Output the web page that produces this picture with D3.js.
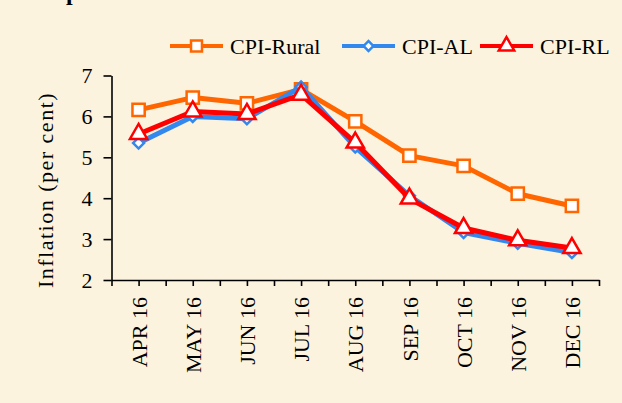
<!DOCTYPE html>
<html>
<head>
  <title>CPI Inflation</title>
  <style>
    body { margin: 0; background: #fcf3df; }
    svg { display: block; font-family: "Liberation Serif", "Times New Roman", serif; }
    .axis path, .axis line { stroke: #000; stroke-width: 1.6px; }
    .axis text { font-size: 22px; fill: #000; font-family: "Liberation Serif", serif; }
  </style>
</head>
<body>
  <svg id="chart"></svg>

  <script src="https://d3js.org/d3.v7.min.js"></script>
  <script>
    // data
    var months = ["APR 16", "MAY 16", "JUN 16", "JUL 16", "AUG 16", "SEP 16", "OCT 16", "NOV 16", "DEC 16"];
    var cpiRural = [6.16, 6.46, 6.32, 6.66, 5.88, 5.04, 4.79, 4.11, 3.81];
    var cpiAL = [5.35, 6.00, 5.94, 6.72, 5.25, 4.06, 3.16, 2.90, 2.67];
    var cpiRL = [5.57, 6.12, 6.06, 6.53, 5.36, 3.99, 3.27, 2.97, 2.78];
    var yTicks = [2, 3, 4, 5, 6, 7];

    var width = 622, height = 403;

    var svg = d3.select("#chart")
      .attr("width", width)
      .attr("height", height);

    svg.append("rect")
      .attr("width", width)
      .attr("height", height)
      .attr("fill", "#fcf3df");

    // leftover of the cut-off title
    svg.append("text")
      .attr("x", 66)
      .attr("y", 0)
      .attr("font-size", 24)
      .attr("font-weight", "bold")
      .text("p");

    var x = d3.scaleLinear().domain([0, months.length]).range([111.5, 599]);
    var y = d3.scaleLinear().domain([2, 7]).range([280, 75.5]);

    // x axis: ticks at category edges and centres, labels at centres
    var xTickVals = d3.range(0, months.length * 2 + 1).map(function(i) { return i / 2; });
    var xAxis = d3.axisBottom(x)
      .tickValues(xTickVals)
      .tickSize(6)
      .tickSizeOuter(0)
      .tickFormat(function(d) {
        return (d % 1 === 0.5) ? months[Math.floor(d)] : "";
      });

    var gx = svg.append("g")
      .attr("class", "axis")
      .attr("transform", "translate(0," + y(2) + ")")
      .call(xAxis);

    gx.selectAll("text")
      .attr("transform", "rotate(-90)")
      .attr("text-anchor", "end")
      .attr("x", -17)
      .attr("y", 0)
      .attr("dy", "0.35em");

    var yAxis = d3.axisLeft(y)
      .tickValues(yTicks)
      .tickSize(8)
      .tickSizeOuter(0)
      .tickPadding(11)
      .tickFormat(d3.format("d"));

    svg.append("g")
      .attr("class", "axis")
      .attr("transform", "translate(" + x(0) + ",0)")
      .call(yAxis);

    svg.append("text")
      .attr("transform", "translate(53,190) rotate(-90)")
      .attr("text-anchor", "middle")
      .attr("font-size", 22)
      .attr("letter-spacing", 1.5)
      .text("Inflation (per cent)");

    var series = [
      { name: "CPI-Rural", values: cpiRural, color: "#ff6600", shape: d3.symbolSquare, size: 150, rot: 0 },
      { name: "CPI-AL", values: cpiAL, color: "#3388ee", shape: d3.symbolSquare, size: 60, rot: 45 },
      { name: "CPI-RL", values: cpiRL, color: "#ff0000", shape: d3.symbolTriangle, size: 130, rot: 0 }
    ];

    var line = d3.line()
      .x(function(d, i) { return x(i + 0.5); })
      .y(function(d) { return y(d); });

    series.forEach(function(s) {
      var g = svg.append("g");
      g.append("path")
        .attr("d", line(s.values))
        .attr("fill", "none")
        .attr("stroke", s.color)
        .attr("stroke-width", 5)
        .attr("stroke-linejoin", "round");
      g.selectAll("path.mark")
        .data(s.values)
        .enter().append("path")
        .attr("class", "mark")
        .attr("d", d3.symbol().type(s.shape).size(s.size))
        .attr("transform", function(d, i) {
          return "translate(" + x(i + 0.5) + "," + y(d) + ") rotate(" + s.rot + ")";
        })
        .attr("fill", "#fff")
        .attr("stroke", s.color)
        .attr("stroke-width", 2.5);
    });

    // legend
    var legendPos = [170, 342, 480];
    var leg = svg.append("g");
    series.forEach(function(s, i) {
      var lx = legendPos[i];
      leg.append("line")
        .attr("x1", lx).attr("x2", lx + 53)
        .attr("y1", 46).attr("y2", 46)
        .attr("stroke", s.color)
        .attr("stroke-width", 4);
      leg.append("path")
        .attr("d", d3.symbol().type(s.shape).size(s.size * 0.8))
        .attr("transform", "translate(" + (lx + 26.5) + ",46) rotate(" + s.rot + ")")
        .attr("fill", "#fff")
        .attr("stroke", s.color)
        .attr("stroke-width", 2.5);
      leg.append("text")
        .attr("x", lx + 60)
        .attr("y", 54)
        .attr("font-size", 22)
        .text(s.name);
    });
  </script>
</body>
</html>
